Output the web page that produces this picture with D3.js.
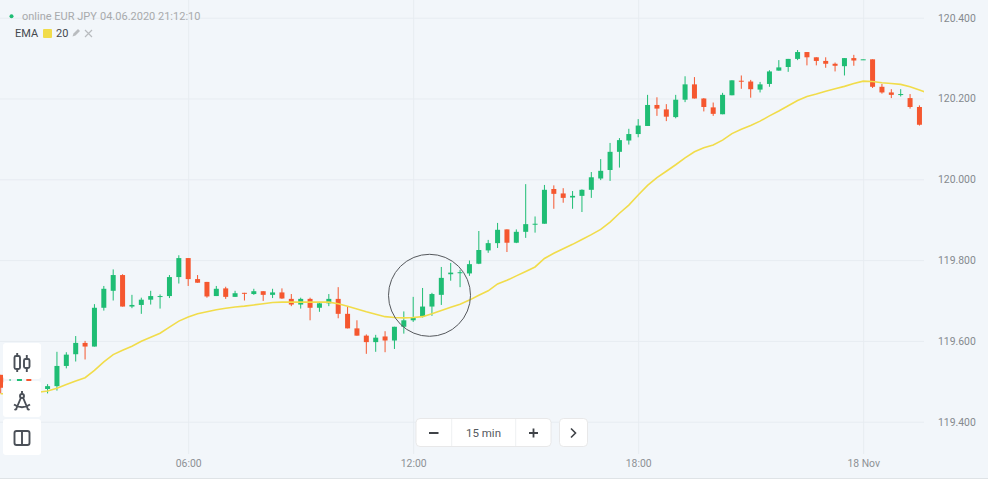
<!DOCTYPE html>
<html><head><meta charset="utf-8">
<script src="https://cdn.jsdelivr.net/npm/d3@7/dist/d3.min.js"></script>
<style>
html,body{margin:0;padding:0;background:#f2f6fa;overflow:hidden}
svg{display:block;font-family:Roboto,sans-serif}
</style></head><body>
<svg id="c" width="988" height="479"></svg>
<script>
const open=[119.516,119.478,119.490,119.512,119.482,
119.481,119.488,119.538,119.567,119.595,
119.586,119.682,119.724,119.763,119.685,
119.689,119.702,119.709,119.711,119.758,
119.805,119.753,119.746,119.711,119.730,
119.709,119.719,119.716,119.723,119.714,
119.720,119.704,119.690,119.704,119.682,
119.693,119.704,119.667,119.631,119.613,
119.597,119.611,119.601,119.635,119.651,
119.660,119.685,119.714,119.765,119.768,
119.767,119.791,119.824,119.842,119.876,
119.843,119.870,119.888,119.890,119.976,
119.965,119.955,119.959,119.974,120.002,
120.023,120.068,120.096,120.112,120.132,
120.184,120.173,120.154,120.197,120.235,
120.200,120.178,120.161,120.208,120.244,
120.242,120.222,120.236,120.269,120.278,
120.298,120.315,120.302,120.293,120.286,
120.280,120.300,120.296,120.297,120.229,
120.215,120.210,120.201,120.179];
const close=[119.484,119.482,119.512,119.495,119.486,
119.488,119.538,119.566,119.595,119.586,
119.682,119.729,119.763,119.685,119.689,
119.702,119.711,119.711,119.758,119.805,
119.753,119.744,119.710,119.729,119.709,
119.718,119.717,119.723,119.714,119.720,
119.705,119.690,119.704,119.682,119.693,
119.704,119.667,119.631,119.613,119.597,
119.608,119.601,119.635,119.651,119.659,
119.685,119.716,119.756,119.769,119.770,
119.790,119.825,119.842,119.875,119.843,
119.870,119.889,119.890,119.974,119.964,
119.954,119.959,119.974,120.005,120.021,
120.068,120.097,120.112,120.133,120.184,
120.175,120.155,120.197,120.235,120.200,
120.179,120.162,120.209,120.245,120.242,
120.223,120.235,120.267,120.277,120.298,
120.315,120.302,120.293,120.286,120.281,
120.300,120.294,120.297,120.229,120.215,
120.209,120.211,120.179,120.135];
const high=[119.516,119.508,119.518,119.515,119.490,
119.493,119.573,119.572,119.612,119.600,
119.691,119.736,119.777,119.765,119.714,
119.707,119.724,119.715,119.763,119.812,
119.805,119.763,119.746,119.736,119.734,
119.724,119.719,119.729,119.723,119.729,
119.730,119.716,119.707,119.707,119.694,
119.716,119.733,119.685,119.651,119.616,
119.615,119.624,119.635,119.673,119.709,
119.731,119.719,119.783,119.793,119.776,
119.799,119.872,119.850,119.892,119.876,
119.876,119.988,119.908,119.986,119.985,
119.978,119.971,119.975,120.018,120.050,
120.090,120.102,120.125,120.149,120.209,
120.203,120.186,120.209,120.255,120.253,
120.201,120.190,120.214,120.245,120.257,
120.246,120.241,120.270,120.295,120.298,
120.320,120.315,120.302,120.302,120.289,
120.300,120.308,120.297,120.297,120.236,
120.223,120.223,120.211,120.183];
const low=[119.470,119.470,119.485,119.490,119.475,
119.470,119.477,119.532,119.549,119.554,
119.586,119.675,119.700,119.685,119.681,
119.667,119.690,119.680,119.706,119.742,
119.736,119.744,119.707,119.711,119.704,
119.709,119.700,119.714,119.699,119.706,
119.704,119.686,119.680,119.651,119.672,
119.686,119.656,119.631,119.613,119.568,
119.573,119.572,119.580,119.618,119.647,
119.658,119.662,119.689,119.749,119.733,
119.761,119.790,119.818,119.830,119.820,
119.842,119.855,119.868,119.890,119.927,
119.942,119.927,119.919,119.954,119.998,
119.996,120.029,120.086,120.104,120.132,
120.157,120.144,120.151,120.191,120.200,
120.168,120.157,120.161,120.208,120.224,
120.202,120.215,120.229,120.269,120.266,
120.295,120.282,120.282,120.276,120.267,
120.257,120.281,120.296,120.226,120.212,
120.201,120.205,120.175,120.133];
const ema=[119.469,119.469,119.469,119.470,119.473,
119.476,119.483,119.492,119.501,119.509,
119.527,119.548,119.566,119.577,119.587,
119.599,119.609,119.619,119.634,119.649,
119.659,119.667,119.672,119.677,119.681,
119.684,119.686,119.689,119.692,119.695,
119.696,119.696,119.696,119.696,119.696,
119.696,119.692,119.686,119.679,119.672,
119.666,119.660,119.658,119.657,119.658,
119.660,119.667,119.675,119.683,119.691,
119.701,119.713,119.724,119.741,119.750,
119.761,119.772,119.783,119.804,119.817,
119.828,119.839,119.851,119.863,119.876,
119.894,119.916,119.936,119.961,119.985,
120.004,120.020,120.036,120.053,120.068,
120.078,120.085,120.097,120.113,120.124,
120.133,120.144,120.157,120.169,120.182,
120.195,120.205,120.211,120.218,120.224,
120.230,120.237,120.243,120.242,120.239,
120.237,120.235,120.229,120.221,120.213];
const firstBar=Date.UTC(2019,10,17,1,0);
const barMs=15*60000;
const priceTicks=[119.4,119.6,119.8,120.0,120.2,120.4];
const timeTicks=[Date.UTC(2019,10,17,6),Date.UTC(2019,10,17,12),Date.UTC(2019,10,17,18),Date.UTC(2019,10,18,0)];
const timeLabels=["06:00","12:00","18:00","18 Nov"];

const UP="#1fbd74",DOWN="#f5572f",EMA="#f1dc4a",GRID="#e7ecf1",AXIS="#858a8f";
const PLOT_R=924,PLOT_B=454;
const svg=d3.select("#c");
const x=d3.scaleUtc().domain([timeTicks[0],timeTicks[3]]).range([188.2,863.2]);
const y=d3.scaleLinear().domain([119.4,120.4]).range([421.7,17.7]);
const t=i=>firstBar+i*barMs;

svg.append("defs").append("clipPath").attr("id","plot").append("rect")
  .attr("x",0).attr("y",0).attr("width",PLOT_R).attr("height",479);

// axes + grid
const gy=svg.append("g").call(d3.axisRight(y).tickValues(priceTicks).tickFormat(d3.format(".3f")).tickSize(PLOT_R).tickPadding(14));
const gx=svg.append("g").call(d3.axisBottom(x).tickValues(timeTicks).tickFormat((d,i)=>timeLabels[i]).tickSize(PLOT_B).tickPadding(6));
[gy,gx].forEach(g=>{
  g.select(".domain").remove();
  g.selectAll("line").attr("stroke",GRID).attr("stroke-width",1);
  g.selectAll("text").attr("fill",AXIS).attr("font-size",10.4).attr("font-family","Roboto,sans-serif");
});
gx.selectAll("text").attr("fill","#8d9195");

// candles
const bars=svg.append("g").selectAll("g").data(open.map((o,i)=>i)).join("g")
  .attr("fill",i=>close[i]>=open[i]?UP:DOWN).attr("stroke",i=>close[i]>=open[i]?UP:DOWN);
bars.append("line").attr("x1",i=>x(t(i))).attr("x2",i=>x(t(i)))
  .attr("y1",i=>y(high[i])).attr("y2",i=>y(low[i])).attr("stroke-width",1);
bars.append("rect").attr("stroke","none")
  .attr("x",i=>x(t(i))-2.5).attr("width",5)
  .attr("y",i=>y(Math.max(open[i],close[i])))
  .attr("height",i=>Math.max(1,Math.abs(y(open[i])-y(close[i]))));

// EMA
svg.append("path").datum(ema).attr("clip-path","url(#plot)")
  .attr("fill","none").attr("stroke",EMA).attr("stroke-width",1.6)
  .attr("d",d3.line().x((d,i)=>x(t(i))).y(d=>y(d)));

// hand-drawn circle annotation
svg.append("circle").attr("cx",429.5).attr("cy",295.3).attr("r",41)
  .attr("fill","none").attr("stroke","#55585c").attr("stroke-width",1);

// header
svg.append("circle").attr("cx",11.5).attr("cy",16.3).attr("r",2).attr("fill",UP);
svg.append("text").attr("x",22).attr("y",19.5).attr("font-size",11).attr("fill","#a8aaac").text("online EUR JPY");
svg.append("text").attr("x",100).attr("y",19.5).attr("font-size",11).attr("fill","#a8aaac").text("04.06.2020 21:12:10");
svg.append("text").attr("x",15).attr("y",37).attr("font-size",11).attr("fill","#44484d").text("EMA");
svg.append("rect").attr("x",43).attr("y",29).attr("width",9).attr("height",9).attr("rx",1).attr("fill",EMA);
svg.append("text").attr("x",56).attr("y",37).attr("font-size",11).attr("fill","#44484d").text("20");
svg.append("path").attr("d","M72.5 36.5l1-3 4.5-4.5 2 2-4.5 4.5z").attr("fill","#b9bcbf");
svg.append("path").attr("d","M85 30l7 7M92 30l-7 7").attr("stroke","#b9bcbf").attr("stroke-width",1.2).attr("fill","none");

// left tools
const icon="#4b5058";
[[343,36],[381,36],[419,36]].forEach(([py,h])=>{
  svg.append("rect").attr("x",3).attr("y",py).attr("width",38).attr("height",h).attr("rx",3).attr("fill","#fff");
});
const tools=svg.append("g").attr("fill","none").attr("stroke",icon).attr("stroke-width",1.9);
tools.append("rect").attr("x",14.5).attr("y",356).attr("width",5.5).attr("height",13).attr("rx",1.5);
tools.append("path").attr("d","M17.2 353v3M17.2 369v3");
tools.append("rect").attr("x",24).attr("y",359).attr("width",5.5).attr("height",9).attr("rx",1.5);
tools.append("path").attr("d","M26.8 355v4M26.8 368v4");
tools.append("circle").attr("cx",22).attr("cy",396).attr("r",2);
tools.append("path").attr("d","M22 391v3M20.8 398l-5 12M23.2 398l5 12M14 404.5c5 3.5 11 3.5 16 0M14.5 410l2.5-1.5M29.5 410l-2.5-1.5");
tools.append("rect").attr("x",14.5).attr("y",431).attr("width",15).attr("height",14).attr("rx",2);
tools.append("path").attr("d","M22 431v14");

// zoom controls
const ctl=svg.append("g");
const shadow=(sel)=>sel.attr("fill","#fff").attr("stroke","#e3e3e3").attr("stroke-width",0.8).attr("rx",4);
shadow(ctl.append("rect").attr("x",416).attr("y",418.5).attr("width",135).attr("height",28));
shadow(ctl.append("rect").attr("x",559.5).attr("y",418.5).attr("width",28).attr("height",28));
ctl.append("path").attr("d","M451.7 419v27M515.7 419v27").attr("stroke","#eef0f2");
ctl.append("path").attr("d","M429 433h9.5M529 433h9M533.5 428.5v9").attr("stroke","#3f4348").attr("stroke-width",1.8).attr("fill","none");
ctl.append("path").attr("d","M571 428.5l4.5 4.5-4.5 4.5").attr("stroke","#3f4348").attr("stroke-width",1.6).attr("fill","none");
ctl.append("text").attr("x",483.5).attr("y",436.5).attr("text-anchor","middle").attr("font-size",11.5).attr("fill","#55595e").text("15 min");

// bottom edge
svg.append("rect").attr("x",0).attr("y",478).attr("width",988).attr("height",1).attr("fill","#dfe3e6");
</script>
</body></html>
